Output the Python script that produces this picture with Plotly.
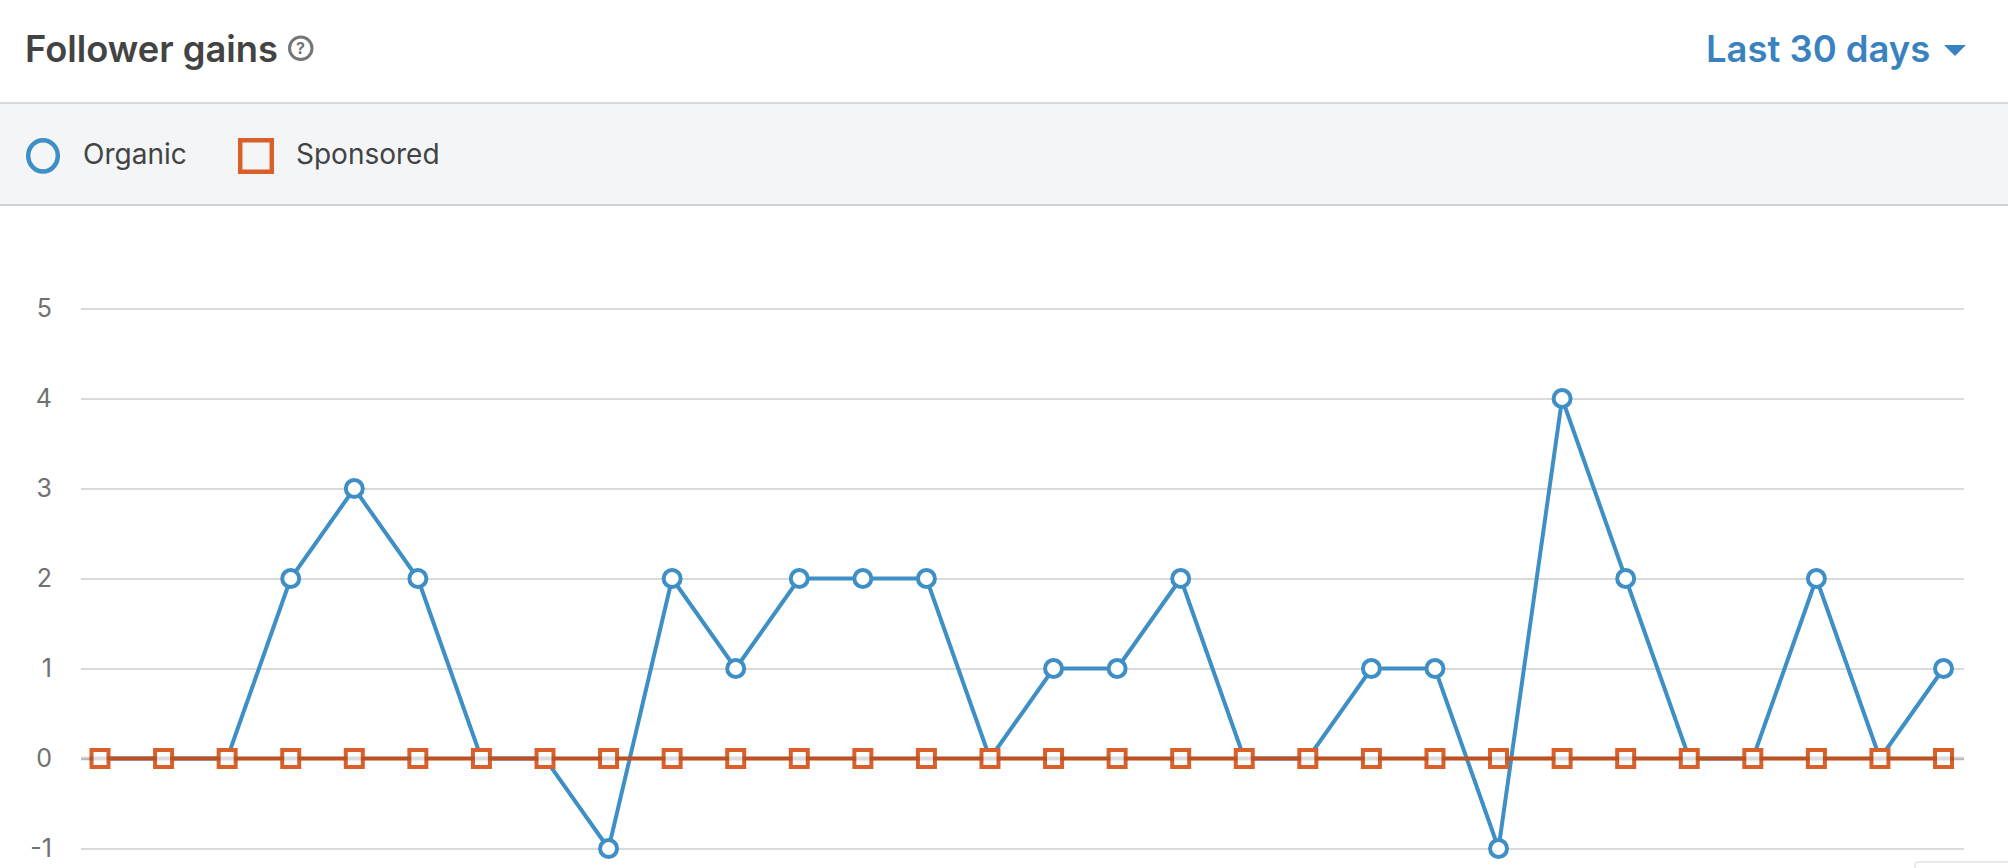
import plotly.graph_objects as go

days = list(range(1, 31))
organic = [0, 0, 0, 2, 3, 2, 0, 0, -1, 2, 1, 2, 2, 2, 0, 1, 1, 2, 0, 0, 1, 1, -1, 4, 2, 0, 0, 2, 0, 1]
sponsored = [0] * 30
y_ticks = [-1, 0, 1, 2, 3, 4, 5]
y_tick_labels = ["-1", "0", "1", "2", "3", "4", "5"]

W, H = 2008, 868
BLUE = "#3d8fc6"
ORANGE = "#d9602a"
LINK = "#3a82bf"
DARK = "#434343"
FONT = "Inter, 'Noto Sans', sans-serif"


def px(x):
    return x / W


def py(y):
    return 1 - y / H


fig = go.Figure()
fig.add_trace(go.Scatter(
    x=days, y=organic, name="Organic", mode="lines+markers",
    line=dict(color=BLUE, width=4),
    marker=dict(symbol="circle", size=17, color="white", line=dict(color=BLUE, width=4)),
    showlegend=False, cliponaxis=False,
))
fig.add_trace(go.Scatter(
    x=days, y=sponsored, name="Sponsored", mode="lines+markers",
    line=dict(color=ORANGE, width=4),
    marker=dict(symbol="square", size=17, color="white", line=dict(color=ORANGE, width=4)),
    showlegend=False, cliponaxis=False,
))


def rect(x0, y0, x1, y1, fill, line=None, lw=0, layer="below"):
    return dict(type="rect", xref="paper", yref="paper", x0=px(x0), x1=px(x1), y0=py(y0), y1=py(y1),
                fillcolor=fill, line=dict(color=line or "rgba(0,0,0,0)", width=lw), layer=layer)


shapes = [
    rect(0, 104, W, 205, "#f3f5f7"),
    rect(0, 102, W, 104, "#d9d9d9"),
    rect(0, 204, W, 206, "#cfd2d4"),
    # legend icons
    dict(type="circle", xref="paper", yref="paper", x0=px(28.2), x1=px(57.8), y0=py(140.2), y1=py(171.4),
         fillcolor="rgba(0,0,0,0)", line=dict(color=BLUE, width=4.5), layer="above"),
    rect(240.2, 140.2, 271.8, 171.8, "rgba(0,0,0,0)", ORANGE, 4.5, "above"),
    # help icon
    dict(type="circle", xref="paper", yref="paper", x0=px(289.5), x1=px(312), y0=py(37), y1=py(59.5),
         fillcolor="rgba(0,0,0,0)", line=dict(color="#757575", width=3), layer="above"),
    # dropdown caret
    dict(type="path", xref="paper", yref="paper",
         path=f"M {px(1944)} {py(45)} L {px(1966)} {py(45)} L {px(1955)} {py(56)} Z",
         fillcolor=LINK, line=dict(width=0), layer="above"),
    # grey band over the zero line
    dict(type="line", xref="paper", yref="y", x0=px(81), x1=px(1964), y0=0, y1=0,
         line=dict(color="rgba(0,0,0,0.14)", width=4), layer="above"),
    # corner of a clipped box, bottom right
    dict(type="path", xref="paper", yref="paper",
         path=f"M {px(1915)} {py(868)} L {px(1915)} {py(865)} Q {px(1915)} {py(862)} {px(1918)} {py(862)} L {px(2008)} {py(862)}",
         line=dict(color="#e4e4e4", width=1.5), layer="above"),
]


def label(x, y, text, size, color, anchor="left", weight=400):
    return dict(xref="paper", yref="paper", x=px(x), y=py(y), text=text, showarrow=False,
                xanchor=anchor, yanchor="middle", xshift=0,
                font=dict(family=FONT, size=size, color=color, weight=weight))


annotations = [
    label(23, 49, "Follower gains", 36.3, DARK, weight=600),
    label(300.7, 48.5, "?", 16, "#757575", "center", 700),
    label(1703.5, 49, "Last 30 days", 36.4, LINK, weight=600),
    label(80.5, 154, "Organic", 28, DARK),
    label(293.5, 154, "Sponsored", 28, DARK),
]

fig.update_layout(
    width=W, height=H, autosize=False,
    margin=dict(l=0, r=0, t=0, b=0),
    paper_bgcolor="white", plot_bgcolor="white",
    showlegend=False,
    shapes=shapes, annotations=annotations,
    font=dict(family=FONT),
    xaxis=dict(domain=[px(81), px(1964)], range=[0.701, 30.322], showgrid=False, zeroline=False,
               showticklabels=False, ticks="", showline=False),
    yaxis=dict(domain=[0, py(205)], range=[-1.2167, 6.15], tickvals=y_ticks, ticktext=y_tick_labels,
               showgrid=True, gridcolor="#dadada", gridwidth=2, zeroline=False, showline=False,
               ticks="outside", ticklen=23, tickcolor="rgba(0,0,0,0)",
               tickfont=dict(family=FONT, size=25, color="#707070")),
)

fig.write_html("out.html", config=dict(displayModeBar=False),
               post_script="document.body.style.margin='0';document.body.style.overflow='hidden';")
